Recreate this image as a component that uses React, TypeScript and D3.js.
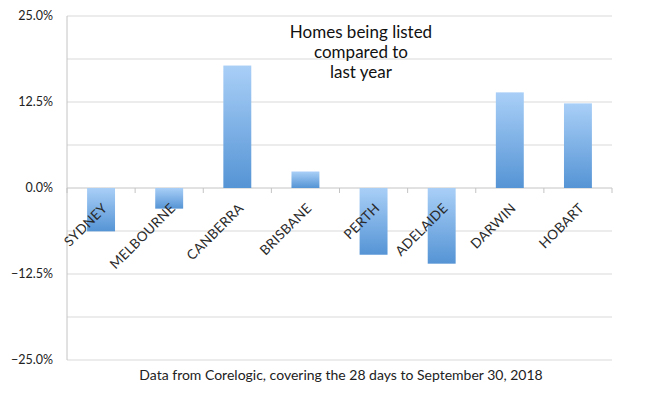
import React from "react";
import * as d3 from "d3";

const categories = ["SYDNEY", "MELBOURNE", "CANBERRA", "BRISBANE", "PERTH", "ADELAIDE", "DARWIN", "HOBART"];
const values = [-6.3, -3.0, 17.8, 2.4, -9.7, -11.0, 13.9, 12.3];
const yTicks = [25, 12.5, 0, -12.5, -25];
const gridValues = [25, 18.75, 12.5, 6.25, 0, -6.25, -12.5, -18.75, -25];
const titleLines = ["Homes being listed", "compared to", "last year"];
const footnote = "Data from Corelogic, covering the 28 days to September 30, 2018";

const W = 650, H = 405;
const left = 67, right = 612, top = 16, bottom = 360;
const FONT = "Lato, 'Open Sans', sans-serif";

export default function App() {
  const x = d3.scaleBand<string>().domain(categories).range([left, right]).paddingInner(0).paddingOuter(0);
  const y = d3.scaleLinear().domain([-25, 25]).range([bottom, top]);
  const bw = x.bandwidth() * 0.41;
  const y0 = y(0);
  const boundaries = categories.map((c) => x(c)!).concat([right]);

  return (
    <svg width={W} height={H} style={{ position: "absolute", left: 0, top: 0, background: "#fff" }}>
      <defs>
        <linearGradient id="barGrad" x1="0" y1="0" x2="0" y2="1">
          <stop offset="0%" stopColor="#a9cff7" />
          <stop offset="100%" stopColor="#5594d5" />
        </linearGradient>
      </defs>
      {gridValues.map((g) => (
        <line key={g} x1={left} x2={right} y1={y(g)} y2={y(g)} stroke={g === 0 ? "#c4c4c4" : "#d9d9d9"} strokeWidth={1} />
      ))}
      <line x1={left} x2={left} y1={top} y2={bottom} stroke="#c4c4c4" strokeWidth={1} />
      {boundaries.map((b, i) => (
        <line key={i} x1={b} x2={b} y1={y0} y2={y0 + 5} stroke="#c4c4c4" strokeWidth={1} />
      ))}
      {yTicks.map((t) => (
        <text key={t} x={53} y={y(t)} dy="0.35em" textAnchor="end" fontFamily={FONT} fontSize={12.5} fill="#222">
          {d3.format(".1f")(t) + "%"}
        </text>
      ))}
      {categories.map((c, i) => {
        const v = values[i];
        const cx = x(c)! + x.bandwidth() / 2;
        return (
          <rect key={c} x={cx - bw / 2} width={bw} y={Math.min(y(v), y0)} height={Math.abs(y(v) - y0)} fill="url(#barGrad)" />
        );
      })}
      {categories.map((c) => {
        const cx = x(c)! + x.bandwidth() / 2;
        const ax = cx + 7, ay = y0 + 21;
        return (
          <text key={c} x={ax} y={ay} textAnchor="end" transform={`rotate(-45 ${ax} ${ay})`} fontFamily={FONT} fontSize={13.5} letterSpacing={0.3} fill="#2a2a2a">
            {c}
          </text>
        );
      })}
      {titleLines.map((l, i) => (
        <text key={i} x={361} y={38 + i * 20} textAnchor="middle" fontFamily={FONT} fontSize={17} fill="#111">
          {l}
        </text>
      ))}
      <text x={341} y={380} textAnchor="middle" fontFamily={FONT} fontSize={14} fill="#222">
        {footnote}
      </text>
    </svg>
  );
}
